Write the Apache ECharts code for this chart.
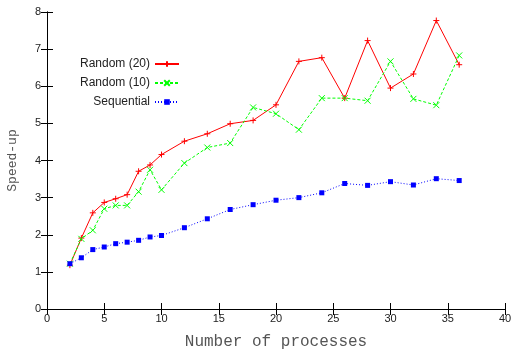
<!DOCTYPE html>
<html><head><meta charset="utf-8">
<script src="https://cdn.jsdelivr.net/npm/echarts@6/dist/echarts.min.js"></script>
<style>html,body{margin:0;padding:0;background:#fff}#c{width:512px;height:351px}</style>
</head><body><div id="c"></div>
<script>
const procs = [2,3,4,5,6,7,8,9,10,12,14,16,18,20,22,24,26,28,30,32,34,36];
const random20 = [1.18,1.91,2.59,2.87,2.97,3.08,3.71,3.88,4.16,4.52,4.72,4.99,5.08,5.50,6.67,6.77,5.68,7.23,5.95,6.33,7.77,6.58];
const random10 = [1.22,1.89,2.12,2.70,2.79,2.79,3.16,3.75,3.21,3.93,4.35,4.47,5.43,5.26,4.83,5.68,5.68,5.61,6.67,5.66,5.49,6.83];
const sequential = [1.22,1.38,1.60,1.67,1.76,1.80,1.85,1.94,1.98,2.19,2.43,2.68,2.81,2.93,3.00,3.13,3.38,3.33,3.43,3.34,3.51,3.46];
const seriesNames = ['Random (20)','Random (10)','Sequential'];
const xTitle = 'Number of processes';
const yTitle = 'Speed-up';

const pair = arr => procs.map((p,i)=>[p,arr[i]]);
const plus = 'path://M0,4L8,4M4,0L4,8';
const cross = 'path://M0,0L8,8M8,0L0,8';
const labelFont = {fontFamily:'Liberation Sans', fontSize:11, color:'#222'};
const chart = echarts.init(document.getElementById('c'));
const legendBase = (name, top) => ({
  data:[name], orient:'vertical', right:327, top:top, align:'right',
  itemWidth:24, itemHeight:7, itemGap:6,
  textStyle:{fontFamily:'Liberation Sans', fontSize:12, color:'#222'}
});
chart.setOption({
  animation:false,
  grid:{left:47, right:7, top:12, bottom:42, outerBoundsMode:'none', containLabel:false},
  legend:[legendBase(seriesNames[0],53), legendBase(seriesNames[1],72), legendBase(seriesNames[2],91)],
  xAxis:[{
    type:'value', min:0, max:40, interval:5, position:'bottom',
    name:xTitle, nameLocation:'middle', nameGap:25,
    nameTextStyle:{fontFamily:'Liberation Mono', fontSize:16, color:'#555'},
    axisLine:{lineStyle:{color:'#000', width:1}},
    axisTick:{inside:true, length:6, lineStyle:{color:'#000'}},
    axisLabel:Object.assign({margin:4}, labelFont),
    splitLine:{show:false}
  },{
    type:'value', min:0, max:40, interval:5, position:'top',
    axisLine:{lineStyle:{color:'#000', width:1}},
    axisTick:{inside:true, length:6, lineStyle:{color:'#000'}},
    axisLabel:{show:false}, splitLine:{show:false}
  }],
  yAxis:[{
    type:'value', min:0, max:8, interval:1, position:'left',
    name:yTitle, nameLocation:'middle', nameGap:28,
    nameTextStyle:{fontFamily:'Liberation Mono', fontSize:13, color:'#555'},
    axisLine:{show:true, lineStyle:{color:'#000', width:1}},
    axisTick:{show:true, inside:true, length:6, lineStyle:{color:'#000'}},
    axisLabel:Object.assign({margin:6}, labelFont),
    splitLine:{show:false}
  },{
    type:'value', min:0, max:8, interval:1, position:'right',
    axisLine:{show:true, lineStyle:{color:'#000', width:1}},
    axisTick:{show:true, inside:true, length:6, lineStyle:{color:'#000'}},
    axisLabel:{show:false}, splitLine:{show:false}
  }],
  series:[{
    name:seriesNames[0], type:'line', data:pair(random20),
    symbol:plus, symbolSize:6, showAllSymbol:true,
    lineStyle:{color:'#ff0000', width:1, type:'solid'},
    itemStyle:{color:'#ff0000', borderColor:'#ff0000', borderWidth:1}
  },{
    name:seriesNames[1], type:'line', data:pair(random10),
    symbol:cross, symbolSize:6, showAllSymbol:true,
    lineStyle:{color:'#00ff00', width:1, type:[3,2]},
    itemStyle:{color:'#00ff00', borderColor:'#00ff00', borderWidth:1}
  },{
    name:seriesNames[2], type:'line', data:pair(sequential),
    symbol:'rect', symbolSize:5, showAllSymbol:true,
    lineStyle:{color:'#0000ff', width:1, type:[1,2]},
    itemStyle:{color:'#0000ff', borderColor:'#0000ff', borderWidth:0}
  }]
});
</script></body></html>
